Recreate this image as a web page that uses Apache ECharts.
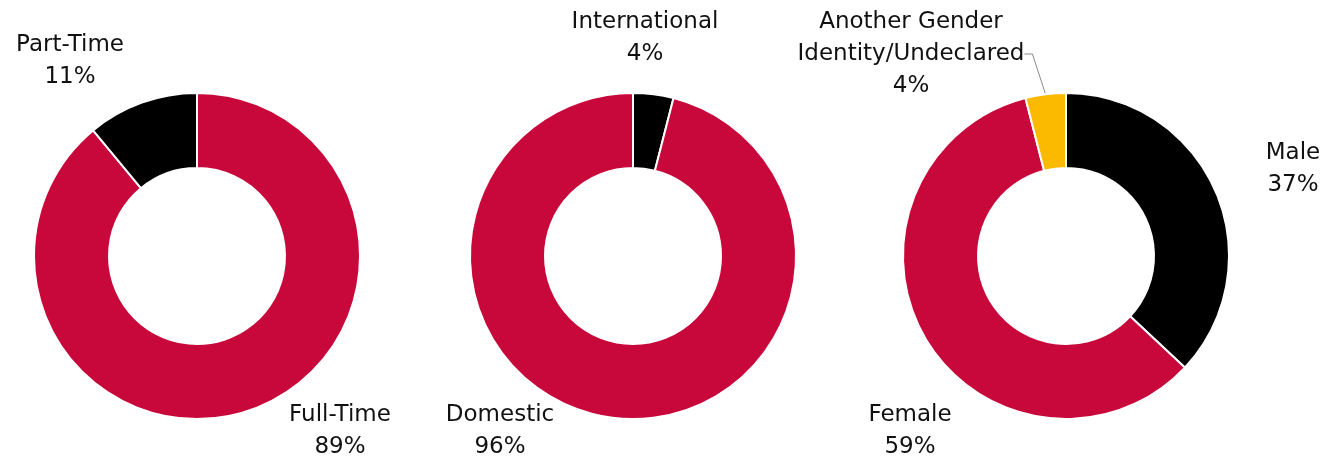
<!DOCTYPE html>
<html>
<head>
<meta charset="utf-8">
<script src="https://cdn.jsdelivr.net/npm/echarts@6/dist/echarts.min.js"></script>
<style>
  html, body { margin: 0; padding: 0; background: #fff; }
  #main { width: 1338px; height: 464px; }
</style>
</head>
<body>
<div id="main"></div>
<script>
// data
const statusNames = ['Full-Time', 'Part-Time']
const statusValues = [89, 11]
const originNames = ['International', 'Domestic']
const originValues = [4, 96]
const genderNames = ['Male', 'Female', 'Another Gender\nIdentity/Undeclared']
const genderValues = [37, 59, 4]

const RED = '#C8073A'
const BLACK = '#000000'
const YELLOW = '#FBBA00'

const chart = echarts.init(document.getElementById('main'))

function toData(names, values, colors, lines) {
  return names.map((n, i) => ({
    name: n,
    value: values[i],
    itemStyle: { color: colors[i] },
    labelLine: { show: !!(lines && lines[i]) }
  }))
}

// label block centres (x, y) for each slice
function donut(center, data, labelPos) {
  return {
    type: 'pie',
    center: center,
    radius: [88, 163],
    startAngle: 90,
    clockwise: true,
    avoidLabelOverlap: false,
    silent: true,
    itemStyle: { borderColor: '#fff', borderWidth: 2 },
    label: {
      show: true,
      position: 'outside',
      formatter: '{b}\n{c}%',
      color: '#111',
      fontFamily: 'DejaVu Sans, sans-serif',
      fontSize: 23,
      lineHeight: 32,
      align: 'center'
    },
    labelLine: {
      show: false,
      length: 10,
      length2: 8,
      lineStyle: { color: '#8a8a8a', width: 1 }
    },
    labelLayout: function (p) {
      const pos = labelPos[p.dataIndex]
      return { x: pos[0], y: pos[1], align: 'center', verticalAlign: 'middle' }
    },
    data: data
  }
}

const option = {
  animation: false,
  backgroundColor: '#fff',
  series: [
    donut([197, 256], toData(statusNames, statusValues, [RED, BLACK]),
      [[340, 431], [70, 61]]),
    donut([633, 256], toData(originNames, originValues, [BLACK, RED]),
      [[645, 38], [500, 431]]),
    donut([1066, 256], toData(genderNames, genderValues, [BLACK, RED, YELLOW], [0, 0, 1]),
      [[1293, 169], [910, 431], [911, 54]])
  ]
}

chart.setOption(option)
window.addEventListener('resize', () => chart.resize())
</script>
</body>
</html>
